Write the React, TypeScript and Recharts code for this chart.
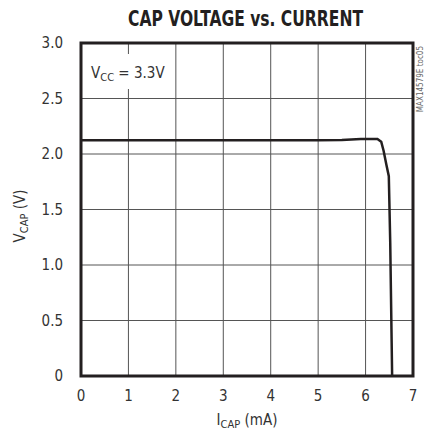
import React from 'react';
import { LineChart, Line, XAxis, YAxis, CartesianGrid, ReferenceArea, Customized } from 'recharts';

const currentMA = [0, 1, 2, 3, 4, 5, 5.5, 5.9, 6.25, 6.33, 6.38, 6.44, 6.49, 6.52, 6.55, 6.56];
const vcap = [2.125, 2.125, 2.125, 2.125, 2.125, 2.125, 2.127, 2.135, 2.135, 2.11, 2.03, 1.9, 1.8, 1.2, 0.3, 0];
const xTicks = [0, 1, 2, 3, 4, 5, 6, 7];
const yTicks = [0, 0.5, 1.0, 1.5, 2.0, 2.5, 3.0];

const data = currentMA.map((x, i) => ({ x, y: vcap[i] }));

const FONT = '"Liberation Sans Narrow", "DejaVu Sans Condensed", Arial, sans-serif';
const TXT = '#333';

const Annotations = () => (
  <g>
    <text x={128} y={26} textLength={235} lengthAdjust="spacingAndGlyphs" fontFamily={FONT} fontWeight="bold" fontSize={21} fill="#231f20">
      CAP VOLTAGE vs. CURRENT
    </text>
    <rect x={84} y={54} width={80} height={35} fill="#fff" />
    <text x={91} y={78} fontFamily={FONT} fontSize={15} fill={TXT}>
      V<tspan fontSize={11} dy={3}>CC</tspan><tspan dy={-3}> = 3.3V</tspan>
    </text>
    <text x={423} y={46} transform="rotate(-90 423 46)" textAnchor="end" fontFamily={FONT} fontSize={8} fill="#666">
      MAX14579E toc05
    </text>
    <text x={247} y={425} textAnchor="middle" fontFamily={FONT} fontSize={15} fill={TXT}>
      I<tspan fontSize={11} dy={3}>CAP</tspan><tspan dy={-3}> (mA)</tspan>
    </text>
    <text x={25} y={216} transform="rotate(-90 25 216)" textAnchor="middle" fontFamily={FONT} fontSize={15} fill={TXT}>
      V<tspan fontSize={11} dy={3}>CAP</tspan><tspan dy={-3}> (V)</tspan>
    </text>
  </g>
);

export default function App() {
  return (
    <div style={{ position: 'absolute', left: 0, top: 0, background: '#fff' }}>
      <LineChart width={424} height={435} data={data} margin={{ top: 43, right: 11, left: 0, bottom: 0 }}>
        <CartesianGrid stroke="#555" strokeWidth={1} />
        <XAxis
          dataKey="x"
          type="number"
          domain={[0, 7]}
          ticks={xTicks}
          height={59}
          axisLine={false}
          tickLine={false}
          tickSize={0}
          tickMargin={14}
          tick={{ fontFamily: FONT, fontSize: 15, fill: TXT }}
        />
        <YAxis
          type="number"
          domain={[0, 3]}
          ticks={yTicks}
          width={81}
          axisLine={false}
          tickLine={false}
          tickSize={0}
          tickMargin={18}
          tickFormatter={(v: number) => (v === 0 ? '0' : v.toFixed(1))}
          tick={{ fontFamily: FONT, fontSize: 15, fill: TXT }}
        />
        <ReferenceArea x1={0} x2={7} y1={0} y2={3} fill="none" stroke="#231f20" strokeWidth={3} ifOverflow="visible" />
        <Line
          dataKey="y"
          type="linear"
          stroke="#231f20"
          strokeWidth={2.5}
          dot={false}
          isAnimationActive={false}
        />
        <Customized component={<Annotations />} />
      </LineChart>
    </div>
  );
}
